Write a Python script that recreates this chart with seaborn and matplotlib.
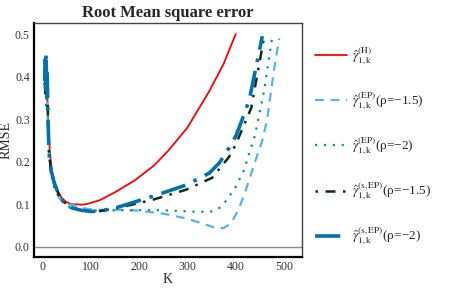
import numpy as np
import pandas as pd
import matplotlib
matplotlib.use("Agg")
import matplotlib.pyplot as plt
import seaborn as sns

# ---- data ----
k_h = [6, 7, 8, 9, 10, 11, 13, 16, 20, 25, 30, 40, 50, 60, 70, 80, 90, 100, 120, 150, 190, 230, 260, 300, 345, 375, 400]
y_h = [0.40, 0.36, 0.43, 0.38, 0.41, 0.34, 0.28, 0.22, 0.18, 0.15, 0.135, 0.115, 0.105, 0.10, 0.10, 0.099, 0.10, 0.103, 0.11, 0.128, 0.155, 0.19, 0.225, 0.28, 0.365, 0.43, 0.50]

k_ep15 = [6, 7, 8, 9, 10, 12, 14, 18, 25, 35, 50, 65, 80, 100, 120, 160, 200, 250, 300, 330, 360, 375, 390, 400, 410, 420, 440, 455, 465, 479, 490]
y_ep15 = [0.38, 0.42, 0.35, 0.40, 0.33, 0.28, 0.22, 0.18, 0.14, 0.115, 0.10, 0.098, 0.092, 0.088, 0.087, 0.087, 0.085, 0.078, 0.066, 0.055, 0.044, 0.044, 0.055, 0.075, 0.10, 0.13, 0.20, 0.25, 0.30, 0.415, 0.49]

k_ep2 = [6, 7, 8, 9, 10, 12, 14, 18, 25, 35, 50, 65, 80, 100, 130, 160, 200, 242, 290, 320, 350, 365, 380, 400, 417, 428, 440, 459, 475]
y_ep2 = [0.36, 0.40, 0.33, 0.38, 0.35, 0.28, 0.22, 0.18, 0.14, 0.115, 0.095, 0.09, 0.087, 0.085, 0.085, 0.086, 0.086, 0.086, 0.084, 0.082, 0.083, 0.09, 0.108, 0.141, 0.18, 0.22, 0.263, 0.369, 0.49]

k_sep15 = [5, 6, 7, 8, 9, 10, 11, 12, 14, 18, 25, 35, 45, 60, 80, 100, 120, 159, 227, 297, 351, 386, 400, 411, 432, 459]
y_sep15 = [0.38, 0.42, 0.36, 0.44, 0.37, 0.40, 0.35, 0.30, 0.22, 0.18, 0.15, 0.12, 0.105, 0.092, 0.086, 0.083, 0.084, 0.092, 0.11, 0.134, 0.162, 0.211, 0.24, 0.27, 0.326, 0.495]

k_sep2 = [5, 6, 7, 8, 9, 10, 11, 12, 14, 18, 25, 35, 45, 60, 80, 100, 120, 159, 227, 297, 345, 366, 386, 400, 407, 428, 455]
y_sep2 = [0.39, 0.44, 0.37, 0.455, 0.38, 0.42, 0.36, 0.30, 0.22, 0.18, 0.15, 0.12, 0.105, 0.092, 0.086, 0.083, 0.084, 0.094, 0.118, 0.145, 0.173, 0.197, 0.232, 0.26, 0.28, 0.345, 0.495]

labels = [
    r"$\hat{\gamma}_{\mathrm{1,k}}^{\mathrm{(H)}}$",
    r"$\hat{\gamma}_{\mathrm{1,k}}^{\mathrm{(EP)}}$(ρ=−1.5)",
    r"$\hat{\gamma}_{\mathrm{1,k}}^{\mathrm{(EP)}}$(ρ=−2)",
    r"$\hat{\gamma}_{\mathrm{1,k}}^{\mathrm{(s,EP)}}$(ρ=−1.5)",
    r"$\hat{\gamma}_{\mathrm{1,k}}^{\mathrm{(s,EP)}}$(ρ=−2)",
]
series = [(k_h, y_h), (k_ep15, y_ep15), (k_ep2, y_ep2), (k_sep15, y_sep15), (k_sep2, y_sep2)]
colors = ["#FF0000", "#56B4E9", "#009E73", "#0B300B", "#0072B2"]
styles = ["-", (0, (4, 3)), (0, (1, 3)), (0, (1, 3, 4, 3)), (0, (7, 2.5, 1, 2.5))]
widths = [1.3, 1.6, 1.6, 1.8, 2.6]

sns.set_style("white")
plt.rcParams["font.family"] = ["Liberation Serif", "DejaVu Serif"]
plt.rcParams["mathtext.fontset"] = "stix"

fig = plt.figure(figsize=(4.63, 3.0), dpi=100)
ax = fig.add_axes([34 / 463, 1 - 257 / 300, 268 / 463, 234 / 300])

ax.axhline(0, color="#8c8c8c", lw=1.0, zorder=1)

handles = []
for (kk, yy), lab, c, ls, lw in zip(series, labels, colors, styles, widths):
    df = pd.DataFrame({"K": kk, "RMSE": yy})
    sns.lineplot(data=df, x="K", y="RMSE", ax=ax, color=c, lw=lw, linestyle=ls,
                 sort=False, estimator=None)
    handles.append(ax.lines[-1])

ax.set_xlim(-17, 537)
ax.set_ylim(-0.024, 0.526)
ax.set_xticks([0, 100, 200, 300, 400, 500])
ax.set_yticks([0.0, 0.1, 0.2, 0.3, 0.4, 0.5])
ax.set_yticklabels(["0.0", "0.1", "0.2", "0.3", "0.4", "0.5"])
ax.tick_params(length=0, labelsize=8.5, pad=3, colors="#333333", labelcolor="#333333")
ax.set_xlabel("K", fontsize=10, labelpad=0)
ax.set_ylabel("RMSE", fontsize=10, labelpad=2)
ax.set_title("Root Mean square error", fontsize=12, fontweight="bold", pad=4)

for s in ["left", "bottom"]:
    ax.spines[s].set_linewidth(1.6)
    ax.spines[s].set_color("black")
for s in ["top", "right"]:
    ax.spines[s].set_linewidth(1.0)
    ax.spines[s].set_color("#444444")

leg = fig.legend(handles, labels, loc="upper left", bbox_to_anchor=(310 / 463, 1 - 40 / 300),
                 frameon=False, fontsize=9.5, handlelength=2.4, labelspacing=1.8,
                 handletextpad=0.35, borderaxespad=0)

fig.savefig("out.png", dpi=100)
